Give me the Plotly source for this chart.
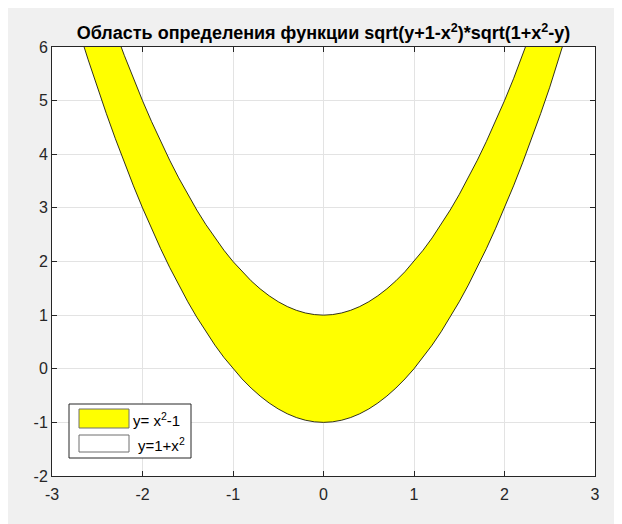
import plotly.graph_objects as go

# x grid and the two boundary curves
x_vals = [-3.0, -2.9, -2.8, -2.7, -2.6, -2.5, -2.4, -2.3, -2.2, -2.1, -2.0,
          -1.9, -1.8, -1.7, -1.6, -1.5, -1.4, -1.3, -1.2, -1.1, -1.0,
          -0.9, -0.8, -0.7, -0.6, -0.5, -0.4, -0.3, -0.2, -0.1, 0.0,
          0.1, 0.2, 0.3, 0.4, 0.5, 0.6, 0.7, 0.8, 0.9, 1.0,
          1.1, 1.2, 1.3, 1.4, 1.5, 1.6, 1.7, 1.8, 1.9, 2.0,
          2.1, 2.2, 2.3, 2.4, 2.5, 2.6, 2.7, 2.8, 2.9, 3.0]
y_lower = [8.0, 7.41, 6.84, 6.29, 5.76, 5.25, 4.76, 4.29, 3.84, 3.41, 3.0,
           2.61, 2.24, 1.89, 1.56, 1.25, 0.96, 0.69, 0.44, 0.21, 0.0,
           -0.19, -0.36, -0.51, -0.64, -0.75, -0.84, -0.91, -0.96, -0.99, -1.0,
           -0.99, -0.96, -0.91, -0.84, -0.75, -0.64, -0.51, -0.36, -0.19, 0.0,
           0.21, 0.44, 0.69, 0.96, 1.25, 1.56, 1.89, 2.24, 2.61, 3.0,
           3.41, 3.84, 4.29, 4.76, 5.25, 5.76, 6.29, 6.84, 7.41, 8.0]
y_upper = [10.0, 9.41, 8.84, 8.29, 7.76, 7.25, 6.76, 6.29, 5.84, 5.41, 5.0,
           4.61, 4.24, 3.89, 3.56, 3.25, 2.96, 2.69, 2.44, 2.21, 2.0,
           1.81, 1.64, 1.49, 1.36, 1.25, 1.16, 1.09, 1.04, 1.01, 1.0,
           1.01, 1.04, 1.09, 1.16, 1.25, 1.36, 1.49, 1.64, 1.81, 2.0,
           2.21, 2.44, 2.69, 2.96, 3.25, 3.56, 3.89, 4.24, 4.61, 5.0,
           5.41, 5.84, 6.29, 6.76, 7.25, 7.76, 8.29, 8.84, 9.41, 10.0]

x_ticks = [-3, -2, -1, 0, 1, 2, 3]
y_ticks = [-2, -1, 0, 1, 2, 3, 4, 5, 6]
legend_labels = ["y= x<sup>2</sup>-1", "y=1+x<sup>2</sup>"]
title_text = "<b>Область определения функции sqrt(y+1-x<sup>2</sup>)*sqrt(1+x<sup>2</sup>-y)</b>"

FONT = "Liberation Sans, Arial, sans-serif"

fig = go.Figure()
fig.add_trace(go.Scatter(x=x_vals, y=y_lower, mode="lines",
                         line=dict(color="black", width=0.8), showlegend=False))
fig.add_trace(go.Scatter(x=x_vals, y=y_upper, mode="lines", fill="tonexty",
                         fillcolor="#ffff00",
                         line=dict(color="black", width=0.8), showlegend=False))

axis_common = dict(showline=True, linecolor="#262626", linewidth=1, mirror="allticks",
                   ticks="inside", ticklen=5, tickcolor="#262626",
                   showgrid=True, gridcolor="#e3e3e3", gridwidth=1, zeroline=False,
                   tickfont=dict(family=FONT, size=16, color="#262626"))

fig.update_xaxes(range=[-3, 3], tickvals=x_ticks, ticktext=[str(v) for v in x_ticks],
                 ticklabelstandoff=4, **axis_common)
fig.update_yaxes(range=[-2, 6], tickvals=y_ticks, ticktext=[str(v) for v in y_ticks], **axis_common)

# page body has an 8px margin; compensate so the plot area lands where the reference has it
OFF = 8
W, H = 622 - OFF, 524 - OFF
PL, PR, PT, PB = 52, 595, 47, 476   # plot area in page pixels
L, T = PL - OFF, PT - OFF
R, B = (OFF + W) - PR, (OFF + H) - PB
pw, ph = PR - PL, PB - PT

def px(xp):
    return (xp - PL) / pw

def py(yp):
    return 1 - (yp - PT) / ph

shapes = []
annotations = []
# legend box
shapes.append(dict(type="rect", xref="paper", yref="paper",
                   x0=px(69), x1=px(191), y0=py(458), y1=py(404),
                   line=dict(color="#262626", width=1), fillcolor="white"))
# legend patches
shapes.append(dict(type="rect", xref="paper", yref="paper",
                   x0=px(79), x1=px(129), y0=py(428), y1=py(409),
                   line=dict(color="#6e6e6e", width=1), fillcolor="#ffff00"))
shapes.append(dict(type="rect", xref="paper", yref="paper",
                   x0=px(79), x1=px(129), y0=py(452), y1=py(435),
                   line=dict(color="#6e6e6e", width=1), fillcolor="white"))
annotations.append(dict(xref="paper", yref="paper", x=px(131), y=py(419),
                        text=legend_labels[0], showarrow=False, xanchor="left", yanchor="middle",
                        font=dict(family=FONT, size=15, color="black")))
annotations.append(dict(xref="paper", yref="paper", x=px(136), y=py(444),
                        text=legend_labels[1], showarrow=False, xanchor="left", yanchor="middle",
                        font=dict(family=FONT, size=15, color="black")))

fig.update_layout(
    width=W, height=H,
    margin=dict(l=L, r=R, t=T, b=B),
    paper_bgcolor="#f0f0f0", plot_bgcolor="white",
    showlegend=False,
    title=dict(text=title_text, x=(PL + pw / 2 - OFF) / W, xanchor="center",
               y=1 - (33 - OFF) / H, yanchor="middle",
               font=dict(family=FONT, size=18, color="black")),
    shapes=shapes, annotations=annotations,
)

fig.write_html("out.html")
